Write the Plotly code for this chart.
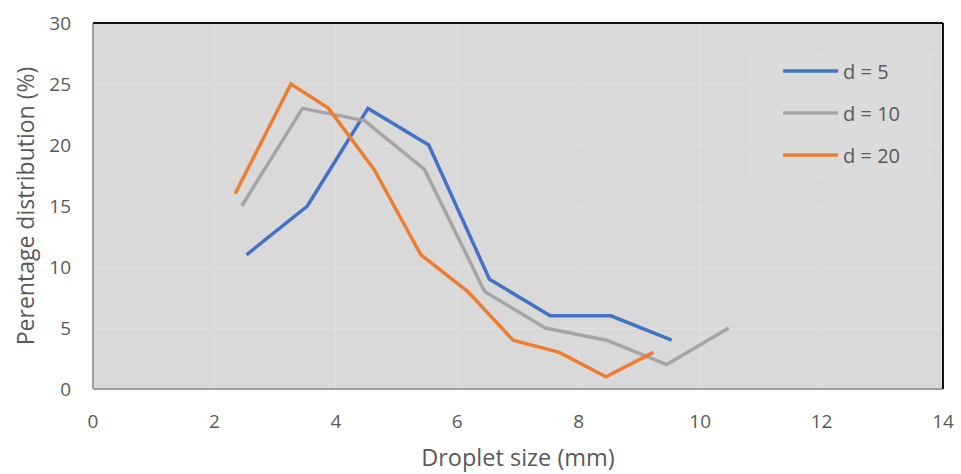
import plotly.graph_objects as go

x_d5 = [2.53, 3.53, 4.53, 5.53, 6.53, 7.53, 8.53, 9.53]
y_d5 = [11, 15, 23, 20, 9, 6, 6, 4]

x_d10 = [2.45, 3.45, 4.47, 5.46, 6.45, 7.45, 8.46, 9.45, 10.47]
y_d10 = [15, 23, 22, 18, 8, 5, 4, 2, 5]

x_d20 = [2.34, 3.26, 3.88, 4.63, 5.40, 6.17, 6.92, 7.68, 8.45, 9.23]
y_d20 = [16, 25, 23, 18, 11, 8, 4, 3, 1, 3]

series_names = ["d = 5", "d = 10", "d = 20"]
series_colors = ["#4472C4", "#A5A5A5", "#ED7D31"]

x_ticks = [0, 2, 4, 6, 8, 10, 12, 14]
y_ticks = [0, 5, 10, 15, 20, 25, 30]

FONT = "'Open Sans', sans-serif"
TXT = "#595959"

fig = go.Figure()
for i, (xs, ys) in enumerate([(x_d5, y_d5), (x_d10, y_d10), (x_d20, y_d20)]):
    fig.add_trace(go.Scatter(
        x=xs, y=ys, mode="lines", name=series_names[i],
        legendgroup=f"g{i}",
        line=dict(color=series_colors[i], width=3.5),
    ))

fig.update_layout(
    width=961, height=474,
    margin=dict(l=93, r=18, t=23, b=85, autoexpand=False),
    paper_bgcolor="white",
    plot_bgcolor="#D9D9D9",
    font=dict(family=FONT, color=TXT, size=19),
    showlegend=True,
    legend=dict(
        x=0.806, y=0.922, xanchor="left", yanchor="top",
        bgcolor="rgba(0,0,0,0)",
        font=dict(size=20, color=TXT, family=FONT),
        tracegroupgap=13,
        itemwidth=55,
        borderwidth=0,
    ),
    xaxis=dict(
        range=[0, 14], tickvals=x_ticks, ticks="",
        showgrid=True, gridcolor="#E0E0E0", gridwidth=1,
        zeroline=False, showline=False, automargin=False,
        title=dict(text="Droplet size (mm)", font=dict(size=23.5, color=TXT), standoff=16),
        tickfont=dict(size=19, color=TXT),
        ticklabelstandoff=19,
    ),
    yaxis=dict(
        range=[0, 30], tickvals=y_ticks, ticks="",
        showgrid=True, gridcolor="#E0E0E0", gridwidth=1,
        zeroline=False, showline=False, automargin=False,
        title=dict(text="Perentage distribution (%)", font=dict(size=23, color=TXT), standoff=8),
        tickfont=dict(size=19, color=TXT),
        ticklabelstandoff=21,
    ),
)

# legend box
fig.add_shape(type="rect", xref="paper", yref="paper", x0=0.768, x1=0.988, y0=0.577, y1=0.918,
              fillcolor="#DBDBDB", line=dict(width=0), layer="above")

# frame: left/bottom grey, top/right black
fig.add_shape(type="line", xref="paper", yref="paper", x0=0, x1=0, y0=0, y1=1,
              line=dict(color="#A0A0A0", width=2))
fig.add_shape(type="line", xref="paper", yref="paper", x0=0, x1=1, y0=0, y1=0,
              line=dict(color="#A0A0A0", width=2))
fig.add_shape(type="line", xref="paper", yref="paper", x0=0, x1=1, y0=1, y1=1,
              line=dict(color="#111111", width=2))
fig.add_shape(type="line", xref="paper", yref="paper", x0=1, x1=1, y0=0, y1=1,
              line=dict(color="#111111", width=2))

fig.write_html("out.html")
